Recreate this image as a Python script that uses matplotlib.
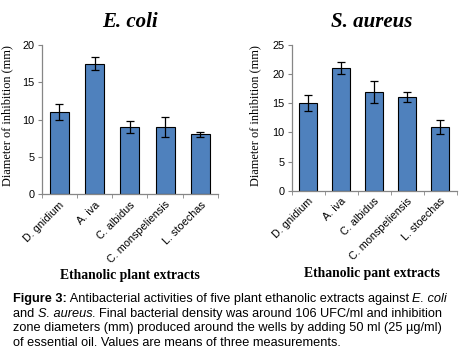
import numpy as np
import matplotlib
matplotlib.use("Agg")
import matplotlib.pyplot as plt

plants = ["D. gnidium", "A. iva", "C. albidus", "C. monspeliensis", "L. stoechas"]
ecoli_mean = [11.0, 17.5, 9.0, 9.0, 8.0]
ecoli_err = [1.1, 0.9, 0.85, 1.3, 0.35]
saureus_mean = [15.0, 21.0, 17.0, 16.0, 11.0]
saureus_err = [1.35, 1.0, 1.9, 0.85, 1.2]

BAR = "#4F81BD"
SPINE = "#868686"
SERIF = "Liberation Serif"
SANS = "Liberation Sans"

W, H = 461, 362
fig = plt.figure(figsize=(W / 100, H / 100), dpi=100)


def px_axes(x0, y0, x1, y1):
    # pixel box (top-left origin) -> figure axes
    return fig.add_axes([x0 / W, 1 - y1 / H, (x1 - x0) / W, (y1 - y0) / H])


def draw_panel(ax, means, errs, ymax, step, title, xlabel, title_y, xlabel_y, cx, ylab_x):
    x = np.arange(len(plants))
    ax.bar(x, means, width=0.54, color=BAR, edgecolor="black", linewidth=0.8, zorder=2)
    ax.errorbar(x, means, yerr=errs, fmt="none", ecolor="black", elinewidth=0.9,
                capsize=3, capthick=0.9, zorder=3)
    ax.set_xlim(-0.5, len(plants) - 0.5)
    ax.set_ylim(0, ymax)
    ax.set_yticks(np.arange(0, ymax + 1, step))
    ax.tick_params(axis="y", labelsize=7.8, length=3, color=SPINE, pad=2)
    ax.set_xticks(x)
    ax.set_xticklabels(plants, rotation=45, ha="right", rotation_mode="anchor",
                       fontsize=7.8, family=SANS)
    ax.tick_params(axis="x", length=0, pad=4)
    ax.set_xticks(np.arange(-0.5, len(plants)), minor=True)
    ax.tick_params(axis="x", which="minor", length=3, color=SPINE)
    for lab in ax.get_yticklabels():
        lab.set_family(SANS)
    for s in ["top", "right"]:
        ax.spines[s].set_visible(False)
    for s in ["left", "bottom"]:
        ax.spines[s].set_color(SPINE)
        ax.spines[s].set_linewidth(0.9)
    fig.text(cx / W, 1 - title_y / H, title, family=SERIF, style="italic",
             weight="bold", fontsize=15, ha="center", va="center")
    fig.text(cx / W, 1 - xlabel_y / H, xlabel, family=SERIF, weight="bold",
             fontsize=9.8, ha="center", va="center")
    fig.text(ylab_x / W, 1 - 116 / H, "Diameter of inhibition (mm)", family=SERIF,
             fontsize=8.8, rotation=90, ha="center", va="center")


ax1 = px_axes(41.7, 45, 218, 194)
draw_panel(ax1, ecoli_mean, ecoli_err, 20, 5, "E. coli", "Ethanolic plant extracts",
           22, 275, 130, 7)

ax2 = px_axes(291.7, 45, 456.7, 190.7)
draw_panel(ax2, saureus_mean, saureus_err, 25, 5, "S. aureus", "Ethanolic pant extracts",
           22, 273, 372, 255)

# caption lines as runs of (text, weight, style)
caption = [
    [("Figure 3:", "bold", "normal"),
     (" Antibacterial activities of five plant ethanolic extracts against ", "normal", "normal"),
     ("E. coli", "normal", "italic")],
    [("and ", "normal", "normal"), ("S. aureus", "normal", "italic"),
     (". Final bacterial density was around 106 UFC/ml and inhibition", "normal", "normal")],
    [("zone diameters (mm) produced around the wells by adding 50 ml (25 µg/ml)", "normal", "normal")],
    [("of essential oil. Values are means of three measurements.", "normal", "normal")],
]

renderer = fig.canvas.get_renderer()
for i, runs in enumerate(caption):
    xpix = 13.0
    ypix = 302 + i * 14.7
    for txt, weight, style in runs:
        t = fig.text(xpix / W, 1 - ypix / H, txt, family=SANS, fontsize=9.2,
                     weight=weight, style=style, ha="left", va="baseline")
        xpix += t.get_window_extent(renderer).width

fig.savefig("out.png", dpi=100)
